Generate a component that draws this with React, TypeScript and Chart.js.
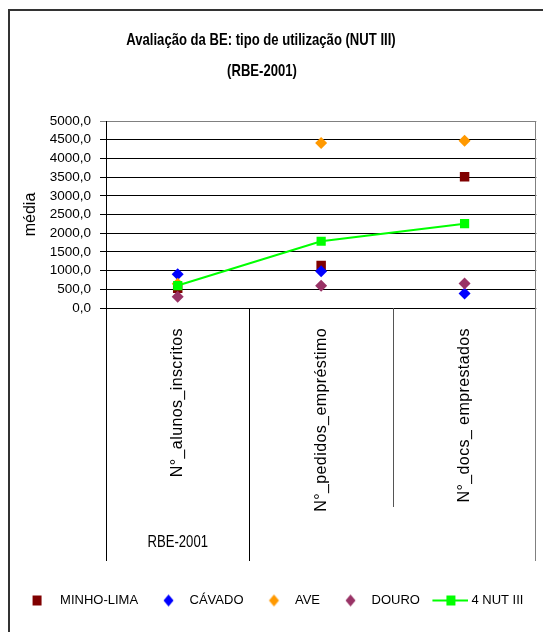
import React, { useEffect, useRef } from 'react';
import { Chart, registerables } from 'chart.js';

Chart.register(...registerables);

const TITLE_LINE_1 = 'Avaliação da BE: tipo de utilização (NUT III)';
const TITLE_LINE_2 = '(RBE-2001)';
const Y_TITLE = 'média';
const GROUP_LABEL = 'RBE-2001';

const categories = ['N°_alunos_inscritos', 'N°_pedidos_empréstimo', 'N°_docs_ emprestados'];
const seriesNames = ['MINHO-LIMA', 'CÁVADO', 'AVE', 'DOURO', '4 NUT III'];
const minhoLima = [530, 1140, 3510];
const cavado = [900, 985, 390];
const ave = [650, 4415, 4470];
const douro = [300, 595, 655];
const nut3 = [600, 1785, 2255];
const yMin = 0;
const yMax = 5000;
const yStep = 500;

const SANS = "'Liberation Sans', Arial, sans-serif";

const COLORS = ['#800000', '#0000FF', '#FF9900', '#993366', '#00FF00'];

function makeMarker(kind: string, color: string): HTMLCanvasElement {
  const c = document.createElement('canvas');
  const W = kind === 'line' ? 43 : 36;
  c.width = W;
  c.height = 14;
  const g = c.getContext('2d') as CanvasRenderingContext2D;
  g.fillStyle = color;
  g.strokeStyle = color;
  if (kind === 'square') {
    g.fillRect(15, 2, 9, 10);
  } else if (kind === 'diamond') {
    const cx = 21.5, cy = 7;
    g.beginPath();
    g.moveTo(cx, cy - 6);
    g.lineTo(cx + 5, cy);
    g.lineTo(cx, cy + 6);
    g.lineTo(cx - 5, cy);
    g.closePath();
    g.fill();
  } else {
    g.lineWidth = 2;
    g.beginPath();
    g.moveTo(7, 7);
    g.lineTo(43, 7);
    g.stroke();
    g.fillRect(21, 2, 9, 10);
  }
  return c;
}

function narrowText(ctx: CanvasRenderingContext2D, text: string, x: number, y: number, sx: number) {
  ctx.save();
  ctx.translate(x, y);
  ctx.scale(sx, 1);
  ctx.fillText(text, 0, 0);
  ctx.restore();
}

const decorPlugin = {
  id: 'decor',
  afterDraw(chart: any) {
    const { ctx, chartArea } = chart;
    const xs = chart.scales.x;
    ctx.save();
    // outer frame
    ctx.strokeStyle = '#333';
    ctx.lineWidth = 2;
    ctx.beginPath();
    ctx.moveTo(9, 632);
    ctx.lineTo(9, 10);
    ctx.lineTo(543, 10);
    ctx.stroke();

    // title
    ctx.fillStyle = '#000';
    ctx.textAlign = 'center';
    ctx.textBaseline = 'alphabetic';
    ctx.font = `bold 17px ${SANS}`;
    narrowText(ctx, TITLE_LINE_1, 261, 44.5, 0.77);
    narrowText(ctx, TITLE_LINE_2, 262, 76, 0.77);

    // plot right border
    const L = Math.round(chartArea.left) + 0.5;
    const R = Math.round(chartArea.right) - 0.5;
    const B = Math.round(chartArea.bottom);
    ctx.lineWidth = 1;
    ctx.strokeStyle = '#808080';
    ctx.beginPath();
    ctx.moveTo(R, chartArea.top);
    ctx.lineTo(R, 561);
    ctx.stroke();

    // category dividers below axis
    const centers = categories.map((_, i) => xs.getPixelForValue(i));
    const bounds: number[] = [];
    for (let i = 1; i < centers.length; i++) bounds.push((centers[i - 1] + centers[i]) / 2);
    ctx.strokeStyle = '#000';
    ctx.beginPath();
    ctx.moveTo(L, B);
    ctx.lineTo(L, 561);
    ctx.moveTo(Math.round(bounds[0]) + 0.5, B);
    ctx.lineTo(Math.round(bounds[0]) + 0.5, 561);
    ctx.stroke();
    ctx.strokeStyle = '#555';
    ctx.beginPath();
    ctx.moveTo(Math.round(bounds[1]) + 0.5, B);
    ctx.lineTo(Math.round(bounds[1]) + 0.5, 507);
    ctx.stroke();

    // rotated category labels
    ctx.fillStyle = '#000';
    ctx.font = `16px ${SANS}`;
    (ctx as any).letterSpacing = '0.4px';
    ctx.textAlign = 'right';
    ctx.textBaseline = 'middle';
    categories.forEach((lab, i) => {
      ctx.save();
      ctx.translate(centers[i], 328);
      ctx.rotate(-Math.PI / 2);
      ctx.fillText(lab, 0, 0);
      ctx.restore();
    });
    (ctx as any).letterSpacing = '0px';

    // group label
    ctx.textAlign = 'center';
    ctx.textBaseline = 'middle';
    narrowText(ctx, GROUP_LABEL, centers[0], 543, 0.82);
    ctx.restore();
  },
};

export default function App() {
  const ref = useRef<HTMLCanvasElement | null>(null);
  useEffect(() => {
    if (!ref.current) return;
    const kinds = ['square', 'diamond', 'diamond', 'diamond', 'line'];
    const markers = kinds.map((k, i) => makeMarker(k, COLORS[i]));
    const pointDs = (label: string, data: number[], color: string, style: string, radius: number, order: number) => ({
      label,
      data,
      showLine: false,
      pointStyle: style,
      pointRadius: radius,
      pointBackgroundColor: color,
      pointBorderColor: color,
      pointBorderWidth: 0,
      backgroundColor: color,
      borderColor: color,
      order,
    });
    const chart = new Chart(ref.current, {
      type: 'line',
      data: {
        labels: categories,
        datasets: [
          pointDs(seriesNames[0], minhoLima, COLORS[0], 'rect', 6.7, 4),
          pointDs(seriesNames[1], cavado, COLORS[1], 'rectRot', 6, 3),
          pointDs(seriesNames[2], ave, COLORS[2], 'rectRot', 6, 2),
          pointDs(seriesNames[3], douro, COLORS[3], 'rectRot', 6, 1),
          {
            label: seriesNames[4],
            data: nut3,
            showLine: true,
            borderColor: COLORS[4],
            borderWidth: 2,
            backgroundColor: COLORS[4],
            pointStyle: 'rect',
            pointRadius: 6.5,
            pointBackgroundColor: COLORS[4],
            pointBorderColor: COLORS[4],
            pointBorderWidth: 0,
            tension: 0,
            order: 0,
          },
        ],
      },
      options: {
        animation: false,
        responsive: false,
        events: [],
        layout: { padding: { top: 121, left: 4, right: 6, bottom: 15 } },
        plugins: {
          title: { display: false },
          tooltip: { enabled: false },
          legend: {
            position: 'bottom',
            labels: {
              usePointStyle: true,
              pointStyleWidth: 36,
              padding: 9,
              color: '#000',
              font: { family: SANS, size: 13 },
              generateLabels: (c: any) =>
                c.data.datasets.map((ds: any, i: number) => ({
                  text: ds.label,
                  pointStyle: markers[i],
                  fillStyle: 'rgba(0,0,0,0)',
                  strokeStyle: 'rgba(0,0,0,0)',
                  lineWidth: 0,
                  hidden: false,
                  datasetIndex: i,
                  fontColor: '#000',
                })),
            },
          },
        },
        scales: {
          x: {
            type: 'category',
            offset: true,
            grid: { display: false },
            border: { display: false },
            ticks: { display: false },
            afterFit: (s: any) => {
              s.height = 277;
            },
          },
          y: {
            min: yMin,
            max: yMax,
            ticks: {
              stepSize: yStep,
              autoSkip: false,
              padding: 9,
              color: '#000',
              font: { family: SANS, size: 13.5 },
              callback: (v: any) => Number(v).toFixed(1).replace('.', ','),
            },
            grid: {
              color: (c: any) => (c.tick && c.tick.value === yMax ? '#808080' : '#000'),
              lineWidth: 1,
              tickLength: 6,
              drawTicks: true,
            },
            border: { display: true, color: '#000', width: 1 },
            title: {
              display: true,
              text: Y_TITLE,
              color: '#000',
              font: { family: SANS, size: 16 },
              padding: { top: 17, bottom: 0 },
            },
            afterFit: (s: any) => {
              s.width = 102;
            },
          },
        },
      },
      plugins: [decorPlugin],
    } as any);
    return () => chart.destroy();
  }, []);
  return (
    <div style={{ position: 'absolute', left: 0, top: 0, width: 543, height: 632, background: '#fff' }}>
      <canvas ref={ref} width={543} height={632} style={{ display: 'block' }} />
    </div>
  );
}
